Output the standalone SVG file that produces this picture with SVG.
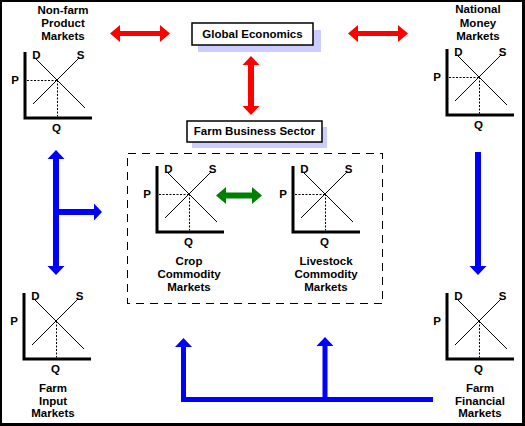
<svg xmlns="http://www.w3.org/2000/svg" width="525" height="426" viewBox="0 0 525 426">
<defs>
<style>
text{font-family:"Liberation Sans",Arial,sans-serif;font-weight:bold;font-size:11.5px;fill:#000;text-anchor:middle}
.ax{stroke:#000;stroke-width:3;fill:none}
.ln{stroke:#000;stroke-width:1;fill:none}
.dl{stroke:#000;stroke-width:1;stroke-dasharray:2,1.5;fill:none}
.box{fill:#fff;stroke:#000;stroke-width:1.5}
.sh{fill:#ccccff}
</style>
<g id="chart">
<path class="ax" d="M0,-66 V0 H67"/>
<path class="ln" d="M10,-60 L60,-10 M8,-14 L54,-60"/>
<path class="dl" d="M32.5,-38 V-1.5"/>
<text x="11.5" y="-59">D</text>
<text x="55.5" y="-59">S</text>
<text x="-10" y="-34">P</text>
<text x="31.5" y="14">Q</text>
</g>
<path id="hd" class="dl" d="M2,-37.5 H32"/>
</defs>
<rect x="0" y="0" width="525" height="426" fill="#000"/>
<rect x="2" y="2" width="520" height="421" fill="#fff"/>

<g id="connectors">
<polygon fill="#ff0000" points="110,33.5 120,25 120,31 160,31 160,25 170,33.5 160,42 160,36 120,36 120,42"/>
<polygon fill="#ff0000" points="348,33.5 358,25 358,31 398,31 398,25 408,33.5 398,42 398,36 358,36 358,42"/>
<polygon fill="#ff0000" points="251,56 259.5,65 254,65 254,106 259.5,106 251,115 242.5,106 248,106 248,65 242.5,65"/>
<polygon fill="#008000" points="216,195.5 226,187 226,192.5 252,192.5 252,187 262,195.5 252,204 252,198.5 226,198.5 226,204"/>
<polygon fill="#0000ff" points="56,150 64.5,159 59,159 59,266 64.5,266 56,275 47.5,266 53,266 53,159 47.5,159"/>
<polygon fill="#0000ff" points="58,209 94,209 94,203.5 102,212 94,220.5 94,215 58,215"/>
<polygon fill="#0000ff" points="475,152 481,152 481,266 486.5,266 478,275 469.5,266 475,266"/>
<polygon fill="#0000ff" points="181,402 433,402 433,397 327.5,397 327.5,346 333.5,346 325,337 316.5,346 322.5,346 322.5,397 186,397 186,347 192,347 183.5,338 175,347 181,347"/>
</g>

<g id="global-economics">
<rect class="sh" x="198" y="30" width="123" height="22"/>
<rect class="box" x="192" y="23" width="121" height="22"/>
<text x="252.5" y="38">Global Economics</text>
</g>

<g id="farm-business-sector">
<rect class="sh" x="192" y="127" width="135" height="21"/>
<rect class="box" x="187" y="121" width="135" height="21"/>
<text x="254.5" y="135">Farm Business Sector</text>
<rect x="127.5" y="153.5" width="255" height="150" fill="none" stroke="#000" stroke-width="1" stroke-dasharray="8,6" shape-rendering="crispEdges"/>
</g>

<g id="non-farm-product-markets">
<text x="63" y="13.5">Non-farm</text>
<text x="63" y="27">Product</text>
<text x="63" y="40">Markets</text>
<use href="#chart" transform="translate(25,118)"/>
<use href="#hd" transform="translate(25,118)"/>
</g>

<g id="national-money-markets">
<text x="478" y="13">National</text>
<text x="478" y="27">Money</text>
<text x="478" y="40">Markets</text>
<use href="#chart" transform="translate(447,115)"/>
<use href="#hd" transform="translate(447,115)"/>
</g>

<g id="crop-commodity-markets">
<use href="#chart" transform="translate(157,232)"/>
<use href="#hd" transform="translate(157,232)"/>
<text x="189" y="265">Crop</text>
<text x="189" y="278">Commodity</text>
<text x="189" y="291">Markets</text>
</g>

<g id="livestock-commodity-markets">
<use href="#chart" transform="translate(293,232)"/>
<use href="#hd" transform="translate(293,232)"/>
<text x="326" y="265">Livestock</text>
<text x="326" y="278">Commodity</text>
<text x="326" y="291">Markets</text>
</g>

<g id="farm-input-markets">
<use href="#chart" transform="translate(24,359)"/>
<text x="53" y="392">Farm</text>
<text x="53" y="404.5">Input</text>
<text x="53" y="417">Markets</text>
</g>

<g id="farm-financial-markets">
<use href="#chart" transform="translate(447,359)"/>
<text x="480" y="391.5">Farm</text>
<text x="480" y="404.5">Financial</text>
<text x="480" y="417">Markets</text>
</g>
</svg>
